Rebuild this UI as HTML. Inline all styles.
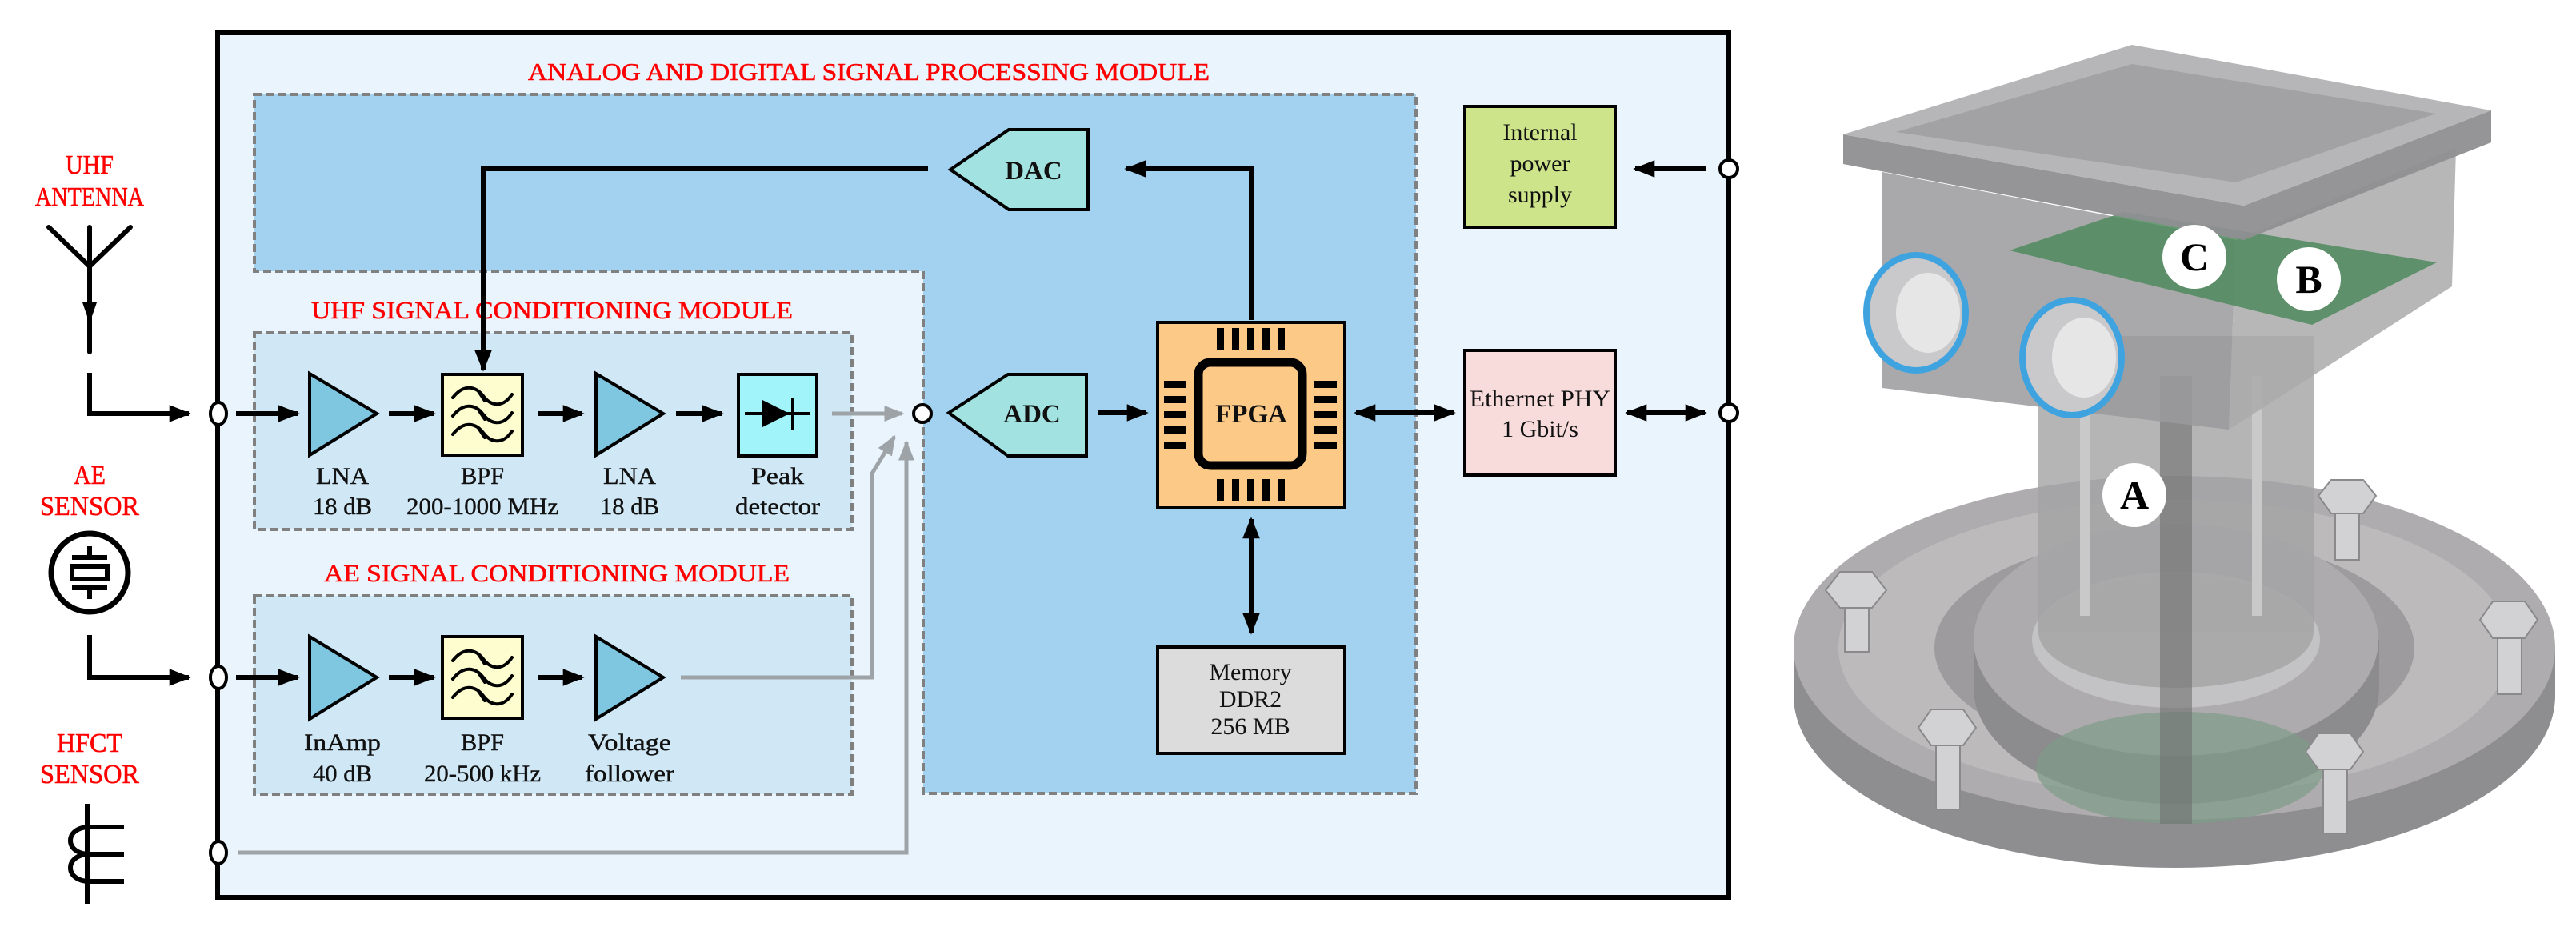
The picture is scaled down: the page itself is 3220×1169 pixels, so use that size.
<!DOCTYPE html>
<html><head><meta charset="utf-8"><style>
html,body{margin:0;padding:0;background:#fff}
svg{display:block}
.r{font-family:"Liberation Serif",serif;fill:#ff0000;font-size:31px;stroke:#ff0000;stroke-width:0.6}
.t{font-family:"Liberation Serif",serif;fill:#111;font-size:30px;stroke:#111;stroke-width:0.4}
.tb{font-family:"Liberation Serif",serif;fill:#111;font-size:33px;font-weight:bold}
.lbl{font-family:"Liberation Serif",serif;font-weight:bold;font-size:50px;fill:#000}
</style></head><body>
<svg width="3220" height="1169" viewBox="0 0 3220 1169" xmlns="http://www.w3.org/2000/svg">
<defs>
<marker id="ah" viewBox="0 0 10 10" refX="9" refY="5" markerWidth="4.5" markerHeight="4.5" orient="auto-start-reverse" markerUnits="strokeWidth"><path d="M0,1 L10,5 L0,9 z" fill="#000"/></marker>
<marker id="ag" viewBox="0 0 10 10" refX="9" refY="5" markerWidth="5" markerHeight="5" orient="auto" markerUnits="strokeWidth"><path d="M0,1 L10,5 L0,9 z" fill="#9ea3a8"/></marker>
<g id="bpfw" fill="none" stroke="#000" stroke-width="4" stroke-linecap="round">
<path d="M566,0 C580,-18 595,-14 604,-2 S628,14 640,-4"/><path d="M598,-8 L606,4"/>
</g>
</defs>

<rect x="272" y="41" width="1889" height="1081" fill="#eaf4fc" stroke="#000" stroke-width="6"/>
<text class="r" x="660" y="100" textLength="852" lengthAdjust="spacingAndGlyphs">ANALOG AND DIGITAL SIGNAL PROCESSING MODULE</text>

<path d="M318,118 L1770,118 L1770,992 L1154,992 L1154,339 L318,339 Z" fill="#a2d2f0" stroke="#808080" stroke-width="4" stroke-dasharray="10,5"/>

<text class="r" x="389" y="398" textLength="602" lengthAdjust="spacingAndGlyphs">UHF SIGNAL CONDITIONING MODULE</text>
<rect x="318" y="416" width="747" height="246" fill="#d0e8f6" stroke="#808080" stroke-width="4" stroke-dasharray="10,5"/>
<text class="r" x="405" y="727" textLength="582" lengthAdjust="spacingAndGlyphs">AE SIGNAL CONDITIONING MODULE</text>
<rect x="318" y="745" width="747" height="248" fill="#d0e8f6" stroke="#808080" stroke-width="4" stroke-dasharray="10,5"/>

<g class="r" text-anchor="middle" style="font-size:34px">
<text x="112" y="217" textLength="60" lengthAdjust="spacingAndGlyphs">UHF</text><text x="112" y="257" textLength="136" lengthAdjust="spacingAndGlyphs">ANTENNA</text>
<text x="112" y="605" textLength="40" lengthAdjust="spacingAndGlyphs">AE</text><text x="112" y="644" textLength="124" lengthAdjust="spacingAndGlyphs">SENSOR</text>
<text x="112" y="940" textLength="82" lengthAdjust="spacingAndGlyphs">HFCT</text><text x="112" y="979" textLength="124" lengthAdjust="spacingAndGlyphs">SENSOR</text>
</g>

<g stroke="#000" stroke-width="6" fill="none" stroke-linecap="round">
<path d="M61,284 L112,333 L163,284"/><path d="M112,284 L112,440"/>
</g>
<path d="M103,378 L121,378 L112,404 Z" fill="#000"/>
<path d="M112,466 L112,517 L236,517" stroke="#000" stroke-width="6" fill="none" marker-end="url(#ah)"/>

<ellipse cx="112" cy="716" rx="48" ry="49" fill="none" stroke="#000" stroke-width="7"/>
<g stroke="#000" stroke-width="6" fill="none">
<path d="M112,683 L112,697 M90,697 L134,697 M90,735 L134,735 M112,735 L112,749"/>
<rect x="90" y="708" width="44" height="16"/>
</g>
<path d="M112,794 L112,847 L236,847" stroke="#000" stroke-width="6" fill="none" marker-end="url(#ah)"/>

<g stroke="#000" stroke-width="6" fill="none">
<path d="M109,1005 L109,1130"/>
<path d="M155,1034 L112,1034 C80,1034 80,1068 112,1068 L155,1068"/>
<path d="M112,1068 C80,1068 80,1102 112,1102 L155,1102"/>
</g>

<g fill="#fff" stroke="#000" stroke-width="4">
<ellipse cx="273" cy="517" rx="10" ry="14"/>
<ellipse cx="273" cy="847" rx="10" ry="14"/>
<ellipse cx="273" cy="1066" rx="10" ry="14"/>
</g>

<g stroke="#000" stroke-width="6" fill="none" marker-end="url(#ah)">
<path d="M295,517 L372,517"/><path d="M486,517 L542,517"/><path d="M672,517 L728,517"/><path d="M845,517 L902,517"/>
<path d="M295,847 L372,847"/><path d="M486,847 L542,847"/><path d="M672,847 L728,847"/>
</g>
<g stroke="#000" stroke-width="4">
<path d="M387,467 L471,517 L387,569 Z" fill="#7fc6e0"/>
<path d="M745,467 L829,517 L745,569 Z" fill="#7fc6e0"/>
<rect x="553" y="468" width="100" height="101" fill="#fdfdd0"/>
<rect x="923" y="468" width="98" height="102" fill="#a0f4fa"/>
<path d="M387,796 L471,847 L387,899 Z" fill="#7fc6e0"/>
<path d="M745,796 L829,847 L745,899 Z" fill="#7fc6e0"/>
<rect x="553" y="796" width="100" height="102" fill="#fdfdd0"/>
</g>
<use href="#bpfw" y="497"/><use href="#bpfw" y="520"/><use href="#bpfw" y="543"/>
<use href="#bpfw" y="826"/><use href="#bpfw" y="849"/><use href="#bpfw" y="872"/>
<path d="M931,517 L1013,517" stroke="#000" stroke-width="4"/>
<path d="M953,500 L953,534 L987,517 Z" fill="#000"/>
<path d="M991,498 L991,537" stroke="#000" stroke-width="4"/>

<g class="t" text-anchor="middle">
<text x="428" y="605" textLength="66" lengthAdjust="spacingAndGlyphs">LNA</text><text x="428" y="643" textLength="74" lengthAdjust="spacingAndGlyphs">18 dB</text>
<text x="603" y="605" textLength="54" lengthAdjust="spacingAndGlyphs">BPF</text><text x="603" y="643" textLength="190" lengthAdjust="spacingAndGlyphs">200-1000 MHz</text>
<text x="787" y="605" textLength="66" lengthAdjust="spacingAndGlyphs">LNA</text><text x="787" y="643" textLength="74" lengthAdjust="spacingAndGlyphs">18 dB</text>
<text x="972" y="605" textLength="66" lengthAdjust="spacingAndGlyphs">Peak</text><text x="972" y="643" textLength="106" lengthAdjust="spacingAndGlyphs">detector</text>
<text x="428" y="938" textLength="96" lengthAdjust="spacingAndGlyphs">InAmp</text><text x="428" y="977" textLength="74" lengthAdjust="spacingAndGlyphs">40 dB</text>
<text x="603" y="938" textLength="54" lengthAdjust="spacingAndGlyphs">BPF</text><text x="603" y="977" textLength="146" lengthAdjust="spacingAndGlyphs">20-500 kHz</text>
<text x="787" y="938" textLength="104" lengthAdjust="spacingAndGlyphs">Voltage</text><text x="787" y="977" textLength="112" lengthAdjust="spacingAndGlyphs">follower</text>
</g>

<g stroke="#9ea3a8" stroke-width="5" fill="none">
<path d="M1040,517 L1128,517" marker-end="url(#ag)"/>
<path d="M851,847 L1090,847 L1090,592 L1118,546" marker-end="url(#ag)"/>
<path d="M298,1066 L1133,1066 L1133,553" marker-end="url(#ag)"/>
</g>
<circle cx="1153" cy="517" r="11" fill="#fff" stroke="#000" stroke-width="4"/>

<path d="M1188,212 L1261,162 L1360,162 L1360,262 L1261,262 Z" fill="#a2e2e0" stroke="#000" stroke-width="4"/>
<path d="M1186,516 L1260,468 L1358,468 L1358,570 L1260,570 Z" fill="#a2e2e0" stroke="#000" stroke-width="4"/>
<text class="tb" x="1292" y="224" text-anchor="middle">DAC</text>
<text class="tb" x="1290" y="528" text-anchor="middle">ADC</text>

<path d="M1160,211 L604,211 L604,462" stroke="#000" stroke-width="6" fill="none" marker-end="url(#ah)"/>
<path d="M1564,400 L1564,211 L1408,211" stroke="#000" stroke-width="6" fill="none" marker-end="url(#ah)"/>
<path d="M1372,516 L1433,516" stroke="#000" stroke-width="6" fill="none" marker-end="url(#ah)"/>

<rect x="1447" y="403" width="234" height="232" fill="#fdc986" stroke="#000" stroke-width="4"/>
<rect x="1498" y="453" width="130" height="129" rx="15" fill="#fdc986" stroke="#000" stroke-width="11"/>
<g fill="#000">
<rect x="1521" y="410" width="9" height="28"/><rect x="1540" y="410" width="9" height="28"/><rect x="1559" y="410" width="9" height="28"/><rect x="1578" y="410" width="9" height="28"/><rect x="1597" y="410" width="9" height="28"/>
<rect x="1521" y="599" width="9" height="28"/><rect x="1540" y="599" width="9" height="28"/><rect x="1559" y="599" width="9" height="28"/><rect x="1578" y="599" width="9" height="28"/><rect x="1597" y="599" width="9" height="28"/>
<rect x="1455" y="476" width="28" height="9"/><rect x="1455" y="495" width="28" height="9"/><rect x="1455" y="514" width="28" height="9"/><rect x="1455" y="533" width="28" height="9"/><rect x="1455" y="552" width="28" height="9"/>
<rect x="1643" y="476" width="28" height="9"/><rect x="1643" y="495" width="28" height="9"/><rect x="1643" y="514" width="28" height="9"/><rect x="1643" y="533" width="28" height="9"/><rect x="1643" y="552" width="28" height="9"/>
</g>
<text class="tb" x="1564" y="528" text-anchor="middle">FPGA</text>

<g stroke="#000" stroke-width="6" fill="none" marker-end="url(#ah)" marker-start="url(#ah)">
<path d="M1695,516 L1817,516"/><path d="M2034,516 L2131,516"/><path d="M1564,649 L1564,791"/>
</g>
<path d="M2133,211 L2044,211" stroke="#000" stroke-width="6" fill="none" marker-end="url(#ah)"/>

<rect x="1447" y="809" width="234" height="133" fill="#dcdcdc" stroke="#000" stroke-width="4"/>
<g class="t" text-anchor="middle" style="stroke-width:0"><text x="1563" y="850">Memory</text><text x="1563" y="884">DDR2</text><text x="1563" y="918">256 MB</text></g>

<rect x="1831" y="133" width="188" height="151" fill="#cde48a" stroke="#000" stroke-width="4"/>
<g class="t" text-anchor="middle" style="stroke-width:0"><text x="1925" y="175">Internal</text><text x="1925" y="214">power</text><text x="1925" y="253">supply</text></g>
<rect x="1831" y="438" width="188" height="156" fill="#f8dcdc" stroke="#000" stroke-width="4"/>
<g class="t" text-anchor="middle" style="stroke-width:0"><text x="1925" y="508" textLength="176" lengthAdjust="spacingAndGlyphs">Ethernet PHY</text><text x="1925" y="546">1 Gbit/s</text></g>

<circle cx="2161" cy="211" r="11" fill="#fff" stroke="#000" stroke-width="4"/>
<circle cx="2161" cy="516" r="11" fill="#fff" stroke="#000" stroke-width="4"/>

<!-- ===== 3D device approximation ===== -->
<g>
<path d="M2242,810 L2242,870 A476,215 0 0 0 3194,870 L3194,810 Z" fill="#8e8d90"/>
<ellipse cx="2718" cy="810" rx="476" ry="215" fill="#aeacae"/>
<ellipse cx="2718" cy="810" rx="420" ry="185" fill="#bdbabb"/>
<ellipse cx="2718" cy="810" rx="300" ry="140" fill="#9d9b9d"/>
<path d="M2467,800 L2467,860 A253,145 0 0 0 2974,860 L2974,800 Z" fill="#8c8b8d"/>
<ellipse cx="2720" cy="800" rx="253" ry="145" fill="#adabad"/>
<ellipse cx="2725" cy="960" rx="180" ry="70" fill="#7d9c88" opacity="0.7"/>
<ellipse cx="2720" cy="800" rx="180" ry="85" fill="#c3c2c4"/>
<rect x="2548" y="420" width="345" height="370" fill="#a2a2a4" opacity="0.8"/>
<ellipse cx="2720" cy="790" rx="172" ry="70" fill="#a8a7a9" opacity="0.9"/>
<rect x="2700" y="470" width="40" height="560" fill="#6f6f70" opacity="0.6"/>
<rect x="2600" y="470" width="12" height="300" fill="#c9c9c9"/><rect x="2815" y="470" width="12" height="300" fill="#c9c9c9"/>
<!-- box body -->
<path d="M2353,215 L2795,300 L2786,537 L2353,485 Z" fill="#9a9a9c" opacity="0.85"/>
<path d="M2795,300 L3070,185 L3065,358 L2786,537 Z" fill="#aaaaac" opacity="0.85"/>
<!-- pcb -->
<path d="M2512,313 L2655,265 L3046,328 L2890,406 Z" fill="#4f8a5d" opacity="0.85"/>
<!-- lid -->
<path d="M2304,168 L2805,257 L3114,138 L3114,178 L2805,300 L2304,205 Z" fill="#8f8f91" opacity="0.95"/>
<path d="M2304,168 L2665,56 L3114,138 L2805,257 Z" fill="#b2b2b4" opacity="0.95"/>
<path d="M2370,165 L2665,80 L3045,142 L2795,228 Z" fill="#a2a2a4"/>
<!-- glands -->
<ellipse cx="2395" cy="391" rx="62" ry="72" fill="#c9c9cb" stroke="#3fa3e0" stroke-width="8"/>
<ellipse cx="2410" cy="391" rx="40" ry="50" fill="#e6e6e6"/>
<ellipse cx="2590" cy="447" rx="62" ry="72" fill="#c9c9cb" stroke="#3fa3e0" stroke-width="8"/>
<ellipse cx="2605" cy="447" rx="40" ry="50" fill="#e6e6e6"/>
<g fill="#d2d2d4" stroke="#8a8a8c" stroke-width="2">
<rect x="2306" y="740" width="30" height="75"/><path d="M2282,738 L2300,715 L2340,715 L2358,738 L2340,760 L2300,760 Z"/>
<rect x="2919" y="620" width="30" height="80"/><path d="M2898,620 L2914,600 L2954,600 L2970,620 L2954,642 L2914,642 Z"/>
<rect x="3122" y="778" width="30" height="90"/><path d="M3100,775 L3116,752 L3156,752 L3172,775 L3156,798 L3116,798 Z"/>
<rect x="2420" y="912" width="30" height="100"/><path d="M2398,910 L2414,887 L2454,887 L2470,910 L2454,932 L2414,932 Z"/>
<rect x="2904" y="942" width="30" height="100"/><path d="M2882,940 L2898,917 L2938,917 L2954,940 L2938,962 L2898,962 Z"/>
</g>
<circle cx="2743" cy="321" r="40" fill="#fff"/><text class="lbl" x="2743" y="338" text-anchor="middle">C</text>
<circle cx="2886" cy="349" r="40" fill="#fff"/><text class="lbl" x="2886" y="366" text-anchor="middle">B</text>
<circle cx="2668" cy="619" r="40" fill="#fff"/><text class="lbl" x="2668" y="636" text-anchor="middle">A</text>
</g>
</svg>
</body></html>
